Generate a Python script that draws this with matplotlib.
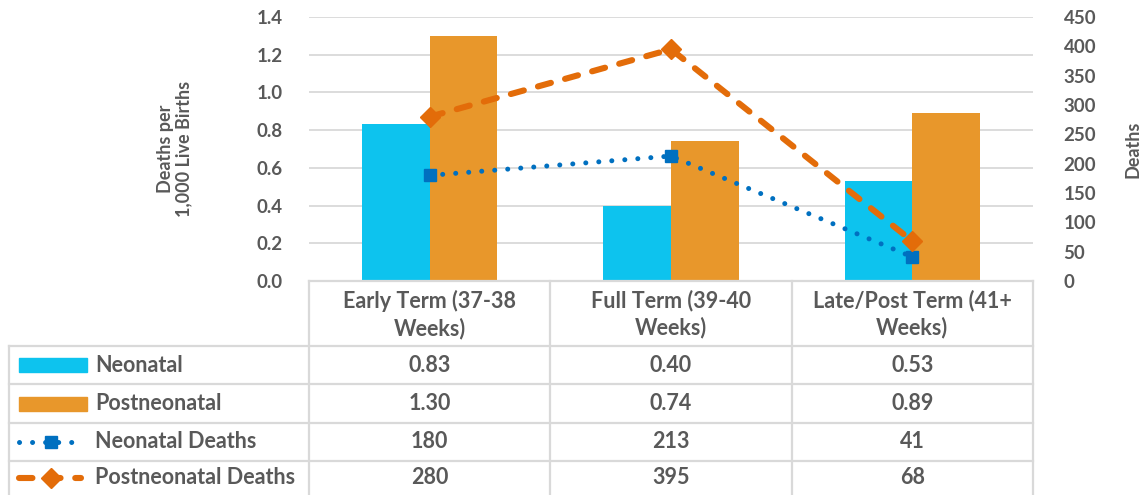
import numpy as np
import matplotlib
matplotlib.use("Agg")
import matplotlib.pyplot as plt
from matplotlib.patches import Rectangle
from matplotlib.lines import Line2D

# --- data ---
categories = ["Early Term (37-38\nWeeks)", "Full Term (39-40\nWeeks)", "Late/Post Term (41+\nWeeks)"]
neonatal_rate = [0.83, 0.40, 0.53]
postneonatal_rate = [1.30, 0.74, 0.89]
neonatal_deaths = [180, 213, 41]
postneonatal_deaths = [280, 395, 68]

series_names = ["Neonatal", "Postneonatal", "Neonatal Deaths", "Postneonatal Deaths"]
table_values = [
    [f"{v:.2f}" for v in neonatal_rate],
    [f"{v:.2f}" for v in postneonatal_rate],
    [str(v) for v in neonatal_deaths],
    [str(v) for v in postneonatal_deaths],
]

c_neo = "#0DC3EE"
c_post = "#E8972B"
c_neo_line = "#0070C0"
c_post_line = "#E36C09"
txt = "#595959"
grid_c = "#D9D9D9"

plt.rcParams["font.family"] = ["Lato", "DejaVu Sans"]
plt.rcParams["font.weight"] = "bold"
plt.rcParams["axes.labelweight"] = "bold"

dot_style = dict(color=c_neo_line, ls=(0, (0.01, 2.6)), lw=3.6, dash_capstyle="round")
dash_style = dict(color=c_post_line, ls=(0, (2.2, 2.4)), lw=4.4, dash_capstyle="round")

W, H = 1144, 495
fig = plt.figure(figsize=(W / 100, H / 100), dpi=100)

# plot area in pixels
px_l, px_r, px_t, px_b = 309, 1033, 17, 281
ax = fig.add_axes([px_l / W, 1 - px_b / H, (px_r - px_l) / W, (px_b - px_t) / H])
x = np.arange(len(categories))
bw = 0.28
ax.bar(x - bw / 2, neonatal_rate, bw, color=c_neo, zorder=2)
ax.bar(x + bw / 2, postneonatal_rate, bw, color=c_post, zorder=2)
ax.set_xlim(-0.5, 2.5)
ax.set_ylim(0, 1.4)
ax.set_yticks(np.arange(0, 1.41, 0.2))
ax.set_yticklabels([f"{v:.1f}" for v in np.arange(0, 1.41, 0.2)])
ax.yaxis.grid(True, color=grid_c, lw=1.3, zorder=0)
ax.set_xticks([])
for s in ax.spines.values():
    s.set_visible(False)
ax.tick_params(axis="y", length=0, pad=19, labelsize=13.5, labelcolor=txt)
ax.set_ylabel("Deaths per\n1,000 Live Births", fontsize=13, color=txt, labelpad=46,
              linespacing=1.1)

ax2 = ax.twinx()
ax2.plot(x, neonatal_deaths, marker="s", ms=8.5, zorder=4, **dot_style)
ax2.plot(x, postneonatal_deaths, marker="D", ms=10, zorder=4, **dash_style)
ax2.set_ylim(0, 450)
ax2.set_yticks(np.arange(0, 451, 50))
for s in ax2.spines.values():
    s.set_visible(False)
ax2.tick_params(axis="y", length=0, pad=22, labelsize=13.5, labelcolor=txt)
ax2.set_ylabel("Deaths", fontsize=13, color=txt)
ax2.yaxis.set_label_coords((1125 - px_l) / (px_r - px_l), 0.5)

# --- data table below, drawn in pixel coords ---
tab = fig.add_axes([0, 0, 1, 1], facecolor="none")
tab.set_xlim(0, W)
tab.set_ylim(H, 0)
tab.axis("off")

col_edges = [px_l + i * (px_r - px_l) / 3 for i in range(4)]
col_centers = [(col_edges[i] + col_edges[i + 1]) / 2 for i in range(3)]
row_edges = [281, 346, 384, 423, 461, 499]
lw = 1.6

tab.plot([px_l, px_r], [row_edges[0]] * 2, color=grid_c, lw=lw)
for xe in col_edges:
    tab.plot([xe, xe], [row_edges[0], H], color=grid_c, lw=lw)
tab.plot([9, 9], [row_edges[1], H], color=grid_c, lw=lw)
for ye in row_edges[1:-1]:
    tab.plot([9, px_r], [ye, ye], color=grid_c, lw=lw)

fs = 15.5
for i, cat in enumerate(categories):
    tab.text(col_centers[i], (row_edges[0] + row_edges[1]) / 2 + 1, cat,
             ha="center", va="center", fontsize=fs, color=txt, linespacing=1.3)

for r, name in enumerate(series_names):
    yc = (row_edges[r + 1] + min(row_edges[r + 2], H)) / 2
    tab.text(95, yc, name, ha="left", va="center", fontsize=fs, color=txt)
    for i, v in enumerate(table_values[r]):
        tab.text(col_centers[i], yc, v, ha="center", va="center", fontsize=fs, color=txt)

# legend keys
y0 = (row_edges[1] + row_edges[2]) / 2
tab.add_patch(Rectangle((19, y0 - 7), 68, 14, color=c_neo))
y1 = (row_edges[2] + row_edges[3]) / 2
tab.add_patch(Rectangle((19, y1 - 7), 68, 14, color=c_post))
y2 = (row_edges[3] + row_edges[4]) / 2
tab.add_line(Line2D([19, 83], [y2, y2], **dot_style))
tab.add_line(Line2D([51], [y2], color=c_neo_line, marker="s", ms=8.5))
y3 = (row_edges[4] + H) / 2
tab.add_line(Line2D([19, 81], [y3, y3], **dash_style))
tab.add_line(Line2D([51], [y3], color=c_post_line, marker="D", ms=10))

fig.savefig("out.png", dpi=100)
